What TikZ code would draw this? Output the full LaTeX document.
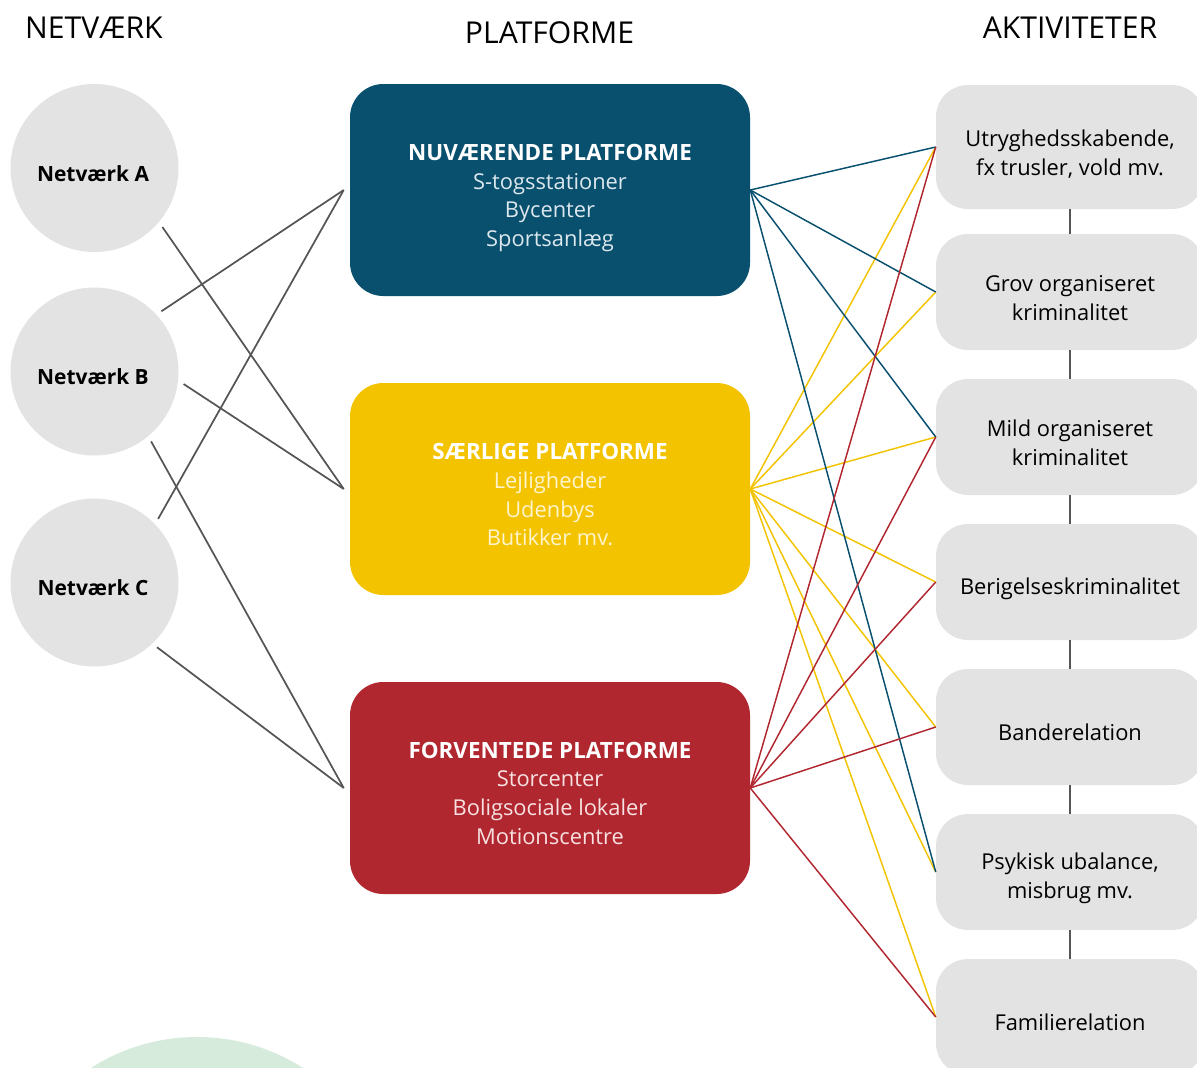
\documentclass[tikz,border=0pt]{standalone}
\usepackage{fontspec}
\setmainfont{Open Sans}
\definecolor{pblue}{HTML}{08506E}
\definecolor{pyellow}{HTML}{F3C300}
\definecolor{pred}{HTML}{B12730}
\definecolor{lgray}{HTML}{E3E3E3}
\definecolor{lngray}{HTML}{555555}
\definecolor{lgreen}{HTML}{D6EBDC}
\definecolor{bluetxt}{HTML}{DCE7EE}
\definecolor{yeltxt}{HTML}{FFF4CC}
\definecolor{redtxt}{HTML}{F7E1E1}
\newcommand{\myptitlefont}{\bfseries\fontsize{16.8}{21.5}\selectfont}
\begin{document}
\begin{tikzpicture}[x=0.75pt,y=-0.75pt,
  header/.style={font=\fontsize{22.6}{26}\selectfont, text=black},
  netcircle/.style={circle, fill=lgray, minimum size=126pt, inner sep=0pt, outer sep=4.5pt},
  ntext/.style={font=\bfseries\fontsize{15.7}{20}\selectfont, text=black},
  platbox/.style={rounded corners=25pt, minimum width=300pt, minimum height=159pt, inner sep=0pt},
  ptext/.style={align=center, font=\fontsize{16.4}{21.5}\selectfont},
  actbox/.style={rounded corners=24pt, fill=lgray, minimum width=201pt, minimum height=87pt, inner sep=0pt},
  atext/.style={align=center, font=\fontsize{16.4}{21.75}\selectfont, text=black},
  netline/.style={draw=lngray, line width=1.3pt},
  bline/.style={draw=pblue, line width=1.1pt},
  yline/.style={draw=pyellow, line width=1.1pt},
  rline/.style={draw=pred, line width=1.1pt},
  vline/.style={draw=lngray, line width=2pt}
]
\useasboundingbox (0,0) rectangle (1197,1068);
\begin{scope}
\clip (0,0) rectangle (1197,1068);
\fill[lgreen] (197,1234) circle[radius=197];

% headers
\node[header] (h1) at (94,28) {NETVÆRK};
\node[header] (h2) at (549.5,33) {PLATFORME};
\node[header] (h3) at (1070,28) {AKTIVITETER};

% network circles
\node[netcircle] (NA) at (94.5,168) {};
\node[netcircle] (NB) at (94.5,371.5) {};
\node[netcircle] (NC) at (94.5,582.5) {};
\node[ntext] (NAt) at (93,173.5) {Netværk A};
\node[ntext] (NBt) at (93,376.5) {Netværk B};
\node[ntext] (NCt) at (93,587.5) {Netværk C};

% platform boxes
\node[platbox, fill=pblue] (P1) at (550,190) {};
\node[platbox, fill=pyellow] (P2) at (550,489) {};
\node[platbox, fill=pred] (P3) at (550,788) {};
\node[ptext, text=bluetxt] (P1t) at (550,198) {\textcolor{white}{\myptitlefont NUVÆRENDE PLATFORME}\\S-togsstationer\\Bycenter\\Sportsanlæg};
\node[ptext, text=yeltxt] (P2t) at (550,495) {\textcolor{white}{\myptitlefont SÆRLIGE PLATFORME}\\Lejligheder\\Udenbys\\Butikker mv.};
\node[ptext, text=redtxt] (P3t) at (550,793) {\textcolor{white}{\myptitlefont FORVENTEDE PLATFORME}\\Storcenter\\Boligsociale lokaler\\Motionscentre};

% activity boxes
\node[actbox, minimum height=93pt] (K1) at (1070,147) {};
\node[actbox] (K2) at (1070,292) {};
\node[actbox] (K3) at (1070,437) {};
\node[actbox] (K4) at (1070,582) {};
\node[actbox] (K5) at (1070,727) {};
\node[actbox] (K6) at (1070,872) {};
\node[actbox] (K7) at (1070,1017) {};
\node[atext] (K1t) at (1070,154) {Utryghedsskabende,\\fx trusler, vold mv.};
\node[atext] (K2t) at (1070,298) {Grov organiseret\\kriminalitet};
\node[atext] (K3t) at (1070,443) {Mild organiseret\\kriminalitet};
\node[atext] (K4t) at (1070,588.5) {Berigelseskriminalitet};
\node[atext] (K5t) at (1070,732.5) {Banderelation};
\node[atext] (K6t) at (1070,878) {Psykisk ubalance,\\misbrug mv.};
\node[atext] (K7t) at (1070,1022) {Familierelation};

% vertical connectors
\draw[vline] (K1.south) -- (K2.north);
\draw[vline] (K2.south) -- (K3.north);
\draw[vline] (K3.south) -- (K4.north);
\draw[vline] (K4.south) -- (K5.north);
\draw[vline] (K5.south) -- (K6.north);
\draw[vline] (K6.south) -- (K7.north);

% network to platform
\draw[netline] (NA.-41) -- ([xshift=-4.5pt]P2.west);
\draw[netline] (NB.42) -- ([xshift=-4.5pt]P1.west);
\draw[netline] (NB.-8) -- ([xshift=-4.5pt]P2.west);
\draw[netline] (NB.-51) -- ([xshift=-4.5pt]P3.west);
\draw[netline] (NC.45) -- ([xshift=-4.5pt]P1.west);
\draw[netline] (NC.-46) -- ([xshift=-4.5pt]P3.west);

% platform to activities
\foreach \k in {1,2,3,4,5,6,7} { \draw[yline] (P2.east) -- (K\k.west); }
\foreach \k in {1,2,3,6} { \draw[bline] (P1.east) -- (K\k.west); }
\foreach \k in {1,3,4,5,7} { \draw[rline] (P3.east) -- (K\k.west); }
\end{scope}
\end{tikzpicture}
\end{document}
